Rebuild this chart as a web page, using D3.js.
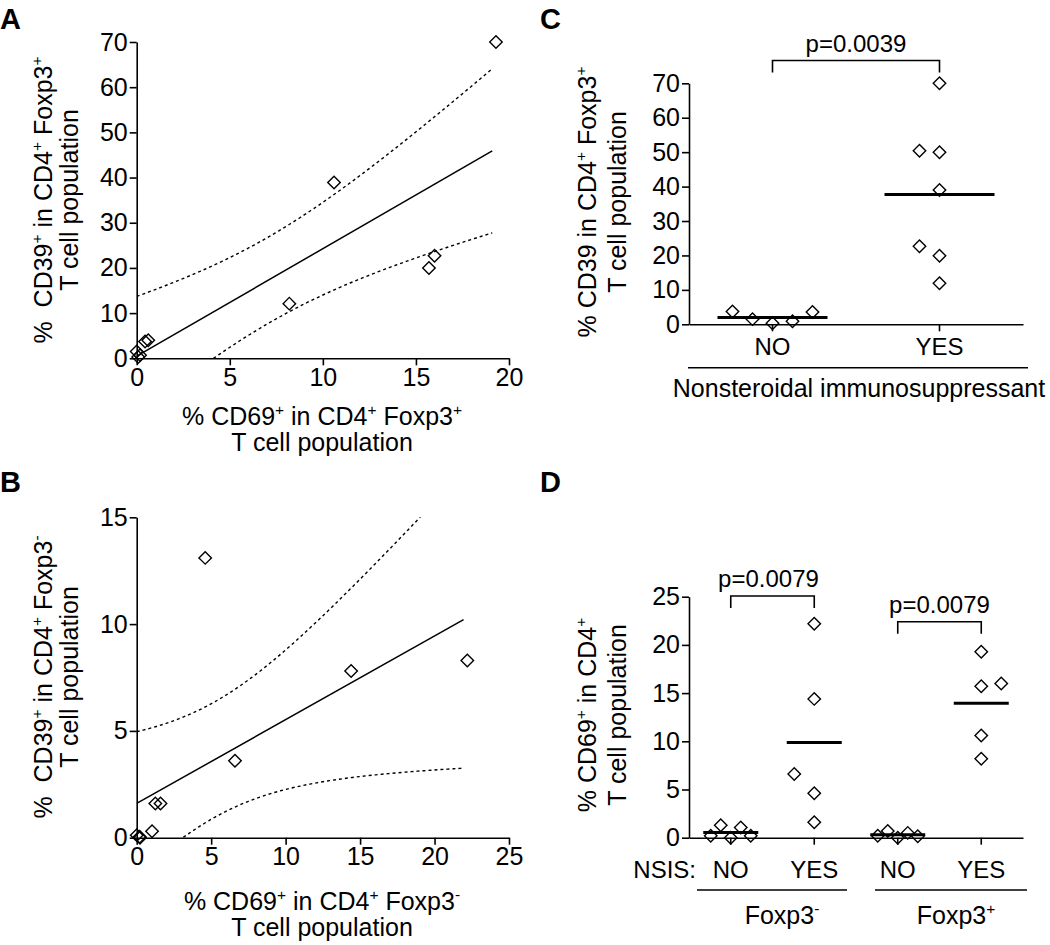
<!DOCTYPE html>
<html><head><meta charset="utf-8">
<script src="https://cdn.jsdelivr.net/npm/d3@7"></script>
<style>
body{margin:0;background:#fff}
svg{display:block}
text{font-family:"Liberation Sans",Arial,sans-serif;fill:#000}
</style>
</head><body><svg id="chart" width="1050" height="945"></svg>
<script>
// ================= DATA =================
// Panel A : % CD69+ (x) vs % CD39+ (y) in CD4+ Foxp3+ T cells
const aX = [19.3, 10.6, 8.2, 15.7, 16.0, 0.62, 0.45, 0, 0.18, 0.08];
const aY = [70, 38.9, 12.1, 20.0, 22.7, 4.0, 3.7, 1.5, 0.7, 0.3];
const aXTicks = [0, 5, 10, 15, 20];
const aYTicks = [0, 10, 20, 30, 40, 50, 60, 70];
const aFitRange = [0, 19.1];

// Panel B : % CD69+ (x) vs % CD39+ (y) in CD4+ Foxp3- T cells
const bX = [4.6, 22.2, 14.4, 6.6, 1.6, 1.25, 1.03, 0, 0.22, 0.2];
const bY = [13.1, 8.3, 7.8, 3.6, 1.6, 1.6, 0.3, 0.12, 0, 0.05];
const bXTicks = [0, 5, 10, 15, 20, 25];
const bYTicks = [0, 5, 10, 15];
const bFitRange = [0, 21.95];

// t critical value, 95% two-sided, df = 8 (n = 10)
const tCrit = 2.306;

// Panel C : % CD39 in CD4+ Foxp3+ by nonsteroidal immunosuppressant
const cCategories = ["NO", "YES"];
const cNo = [3.7, 1.5, 0.3, 0.9, 3.6];
const cNoSlots = [-2, -1, 0, 1, 2];
const cYes = [70, 50.4, 50.0, 39.0, 22.7, 19.9, 11.9];
const cYesSlots = [0, -1, 0, 0, -1, 0, 0];
const cYTicks = [0, 10, 20, 30, 40, 50, 60, 70];
const cPValue = "p=0.0039";

// Panel D : % CD69+ in CD4+ by NSIS, Foxp3- and Foxp3+
const dCategories = ["m-NO", "m-YES", "p-NO", "p-YES"];
const dCatLabels = ["NO", "YES", "NO", "YES"];
const dFoxMinusNo = [0.2, 1.3, 0, 1.05, 0.2];
const dFoxMinusNoSlots = [-2, -1, 0, 1, 2];
const dFoxMinusYes = [22.2, 14.4, 6.6, 4.6, 1.6];
const dFoxMinusYesSlots = [0, 0, -2, 0, 0];
const dFoxPlusNo = [0.2, 0.7, 0, 0.5, 0.15];
const dFoxPlusNoSlots = [-2, -1, 0, 1, 2];
const dFoxPlusYes = [19.3, 15.7, 16.0, 10.6, 8.2];
const dFoxPlusYesSlots = [0, 0, 2, 0, 0];
const dYTicks = [0, 5, 10, 15, 20, 25];
const dPValues = ["p=0.0079", "p=0.0079"];

// ================= DRAWING =================
const svg = d3.select("#chart");
const TICK_FS = 25, TITLE_FS = 25, LABEL_FS = 29;
const diamond = d3.symbol().type(d3.symbolSquare).size(78);

function rich(textSel, parts, fs) {
  let prevSup = false;
  parts.forEach(([s, sup]) => {
    const t = textSel.append("tspan").text(s);
    if (sup && !prevSup) t.attr("dy", -0.42 * fs);
    if (!sup && prevSup) t.attr("dy", 0.42 * fs);
    if (sup) t.attr("font-size", fs * 0.62);
    prevSup = sup;
  });
}

function styleAxis(g, fs) {
  g.selectAll(".domain").attr("stroke", "#000").attr("stroke-width", 1.6);
  g.selectAll(".tick line").attr("stroke", "#000").attr("stroke-width", 1.6);
  g.selectAll(".tick text").attr("font-size", fs).attr("fill", "#000")
    .attr("font-family", '"Liberation Sans",Arial,sans-serif');
}

function drawDiamonds(g, pts) {
  g.selectAll(null).data(pts).enter().append("path")
    .attr("d", diamond)
    .attr("transform", d => `translate(${d[0]},${d[1]}) rotate(45)`)
    .attr("fill", "none").attr("stroke", "#000").attr("stroke-width", 1.4);
}

function panelLabel(txt, x, y) {
  svg.append("text").attr("x", x).attr("y", y).attr("font-size", LABEL_FS)
    .attr("font-weight", "bold").text(txt);
}

function yTitle(cx, cy, line1, line2, gap) {
  const g = svg.append("g").attr("transform", `translate(${cx},${cy}) rotate(-90)`);
  rich(g.append("text").attr("text-anchor", "middle").attr("font-size", TITLE_FS)
    .style("white-space", "pre"), line1, TITLE_FS);
  rich(g.append("text").attr("text-anchor", "middle").attr("y", gap)
    .attr("font-size", TITLE_FS), line2, TITLE_FS);
}

function xTitle(cx, y, line1, line2, gap) {
  rich(svg.append("text").attr("x", cx).attr("y", y).attr("text-anchor", "middle")
    .attr("font-size", TITLE_FS), line1, TITLE_FS);
  if (line2) rich(svg.append("text").attr("x", cx).attr("y", y + gap).attr("text-anchor", "middle")
    .attr("font-size", TITLE_FS), line2, TITLE_FS);
}

function scatterPanel(cfg) {
  const x = d3.scaleLinear().domain(cfg.xDomain).range([cfg.left, cfg.right]);
  const y = d3.scaleLinear().domain(cfg.yDomain).range([cfg.bottom, cfg.top]);
  const gx = svg.append("g").attr("transform", `translate(0,${cfg.bottom})`)
    .call(d3.axisBottom(x).tickValues(cfg.xTicks).tickSize(7).tickPadding(3).tickSizeOuter(0));
  styleAxis(gx, TICK_FS);
  const gy = svg.append("g").attr("transform", `translate(${cfg.left},0)`)
    .call(d3.axisLeft(y).tickValues(cfg.yTicks).tickSize(7).tickPadding(2).tickSizeOuter(0));
  styleAxis(gy, TICK_FS);

  // linear regression + 95% confidence band, computed from the points
  const n = cfg.xs.length;
  const mx = d3.mean(cfg.xs), my = d3.mean(cfg.ys);
  let sxx = 0, sxy = 0;
  for (let i = 0; i < n; i++) { sxx += (cfg.xs[i]-mx)**2; sxy += (cfg.xs[i]-mx)*(cfg.ys[i]-my); }
  const slope = sxy / sxx, icpt = my - slope * mx;
  let ssr = 0;
  for (let i = 0; i < n; i++) ssr += (cfg.ys[i] - (icpt + slope*cfg.xs[i]))**2;
  const s = Math.sqrt(ssr / (n - 2));
  const xsFit = d3.range(0, 1.0001, 0.01).map(f => cfg.fitRange[0] + f*(cfg.fitRange[1]-cfg.fitRange[0]));
  const half = xv => tCrit * s * Math.sqrt(1/n + (xv-mx)**2/sxx);

  const clipId = cfg.id + "-clip";
  svg.append("clipPath").attr("id", clipId).append("rect")
    .attr("x", cfg.left).attr("y", cfg.top).attr("width", cfg.right - cfg.left).attr("height", cfg.bottom - cfg.top);
  const lg = svg.append("g").attr("clip-path", `url(#${clipId})`);
  const line = d3.line().x(d => x(d[0])).y(d => y(d[1]));
  lg.append("path").attr("d", line(cfg.fitRange.map(v => [v, icpt + slope*v])))
    .attr("fill", "none").attr("stroke", "#000").attr("stroke-width", 1.5);
  [1, -1].forEach(sg => {
    lg.append("path").attr("d", line(xsFit.map(v => [v, icpt + slope*v + sg*half(v)])))
      .attr("fill", "none").attr("stroke", "#000").attr("stroke-width", 1.4)
      .attr("stroke-dasharray", "3,3");
  });
  drawDiamonds(svg.append("g"), cfg.xs.map((v, i) => [x(v), y(cfg.ys[i])]));
}

function catPanel(cfg) {
  const x = d3.scaleBand().domain(cfg.cats).range([cfg.left, cfg.right]);
  const y = d3.scaleLinear().domain(cfg.yDomain).range([cfg.bottom, cfg.top]);
  const cx = c => x(c) + x.bandwidth() / 2;
  const gx = svg.append("g").attr("transform", `translate(0,${cfg.bottom})`)
    .call(d3.axisBottom(x).tickSize(7).tickPadding(cfg.catPad).tickSizeOuter(0)
      .tickFormat((d, i) => cfg.catLabels[i]));
  styleAxis(gx, 24);
  const gy = svg.append("g").attr("transform", `translate(${cfg.left},0)`)
    .call(d3.axisLeft(y).tickValues(cfg.yTicks).tickSize(7).tickPadding(2).tickSizeOuter(0));
  styleAxis(gy, TICK_FS);
  cfg.groups.forEach(gr => {
    const pts = gr.values.map((v, i) => [cx(gr.cat) + gr.slots[i]*cfg.step, y(v)]);
    drawDiamonds(svg.append("g"), pts);
    const m = d3.mean(gr.values);
    svg.append("line").attr("x1", cx(gr.cat) - cfg.meanHalf).attr("x2", cx(gr.cat) + cfg.meanHalf)
      .attr("y1", y(m)).attr("y2", y(m)).attr("stroke", "#000").attr("stroke-width", 3);
  });
  cfg.brackets.forEach(b => {
    const x1 = cx(b.from), x2 = cx(b.to);
    svg.append("path").attr("d", `M${x1},${b.y + 12}V${b.y}H${x2}V${b.y + 12}`)
      .attr("fill", "none").attr("stroke", "#000").attr("stroke-width", 1.6);
    svg.append("text").attr("x", (x1 + x2)/2 + b.dx).attr("y", b.y - 9).attr("text-anchor", "middle")
      .attr("font-size", 24).text(b.text);
  });
  return {x, cx};
}

// ---------- Panel A ----------
panelLabel("A", 0, 29);
scatterPanel({id: "A", left: 136.7, right: 509, top: 42, bottom: 358.3,
  xDomain: [0, 20], yDomain: [0, 70], xTicks: aXTicks, yTicks: aYTicks,
  xs: aX, ys: aY, fitRange: aFitRange});
yTitle(52, 200, [["%  CD39"], ["+", 1], [" in CD4"], ["+", 1], [" Foxp3"], ["+", 1]], [["T cell population"]], 26);
xTitle(322, 425, [["% CD69"], ["+", 1], [" in CD4"], ["+", 1], [" Foxp3"], ["+", 1]], [["T cell population"]], 26);

// ---------- Panel B ----------
panelLabel("B", 0, 492);
scatterPanel({id: "B", left: 136.7, right: 509, top: 517.3, bottom: 837.7,
  xDomain: [0, 25], yDomain: [0, 15], xTicks: bXTicks, yTicks: bYTicks,
  xs: bX, ys: bY, fitRange: bFitRange});
yTitle(52, 677, [["%  CD39"], ["+", 1], [" in CD4"], ["+", 1], [" Foxp3"], ["-", 1]], [["T cell population"]], 26);
xTitle(322, 910, [["% CD69"], ["+", 1], [" in CD4"], ["+", 1], [" Foxp3"], ["-", 1]], [["T cell population"]], 26);

// ---------- Panel C ----------
panelLabel("C", 540, 29);
const C = catPanel({left: 689, right: 1023, top: 83.3, bottom: 324.3, yDomain: [0, 70],
  yTicks: cYTicks, cats: cCategories, catLabels: cCategories, catPad: 7, step: 20, meanHalf: 55,
  groups: [{cat: "NO", values: cNo, slots: cNoSlots}, {cat: "YES", values: cYes, slots: cYesSlots}],
  brackets: [{from: "NO", to: "YES", y: 60.5, text: cPValue, dx: 0}]});
yTitle(596, 202, [["% CD39 in CD4"], ["+", 1], [" Foxp3"], ["+", 1]], [["T cell population"]], 30);
svg.append("line").attr("x1", 688).attr("x2", 1028).attr("y1", 367.7).attr("y2", 367.7)
  .attr("stroke", "#000").attr("stroke-width", 1.6);
xTitle(859, 397, [["Nonsteroidal immunosuppressant"]], null, 0);

// ---------- Panel D ----------
panelLabel("D", 540, 492);
const D = catPanel({left: 689, right: 1023, top: 596.7, bottom: 837.7, yDomain: [0, 25],
  yTicks: dYTicks, cats: dCategories, catLabels: dCatLabels, catPad: 16, step: 10, meanHalf: 27.5,
  groups: [
    {cat: "m-NO", values: dFoxMinusNo, slots: dFoxMinusNoSlots},
    {cat: "m-YES", values: dFoxMinusYes, slots: dFoxMinusYesSlots},
    {cat: "p-NO", values: dFoxPlusNo, slots: dFoxPlusNoSlots},
    {cat: "p-YES", values: dFoxPlusYes, slots: dFoxPlusYesSlots}],
  brackets: [{from: "m-NO", to: "m-YES", y: 596, text: dPValues[0], dx: -4},
             {from: "p-NO", to: "p-YES", y: 621.7, text: dPValues[1], dx: 0}]});
yTitle(596, 715, [["% CD69"], ["+", 1], [" in CD4"], ["+", 1]], [["T cell population"]], 30);
svg.append("text").attr("x", 696).attr("y", 878).attr("text-anchor", "end").attr("font-size", 24).text("NSIS:");
svg.append("line").attr("x1", 697).attr("x2", 847).attr("y1", 890).attr("y2", 890)
  .attr("stroke", "#000").attr("stroke-width", 1.6);
svg.append("line").attr("x1", 875).attr("x2", 1027).attr("y1", 890).attr("y2", 890)
  .attr("stroke", "#000").attr("stroke-width", 1.6);
xTitle(782, 924, [["Foxp3"], ["-", 1]], null, 0);
xTitle(956, 924, [["Foxp3"], ["+", 1]], null, 0);
</script>
</body></html>
